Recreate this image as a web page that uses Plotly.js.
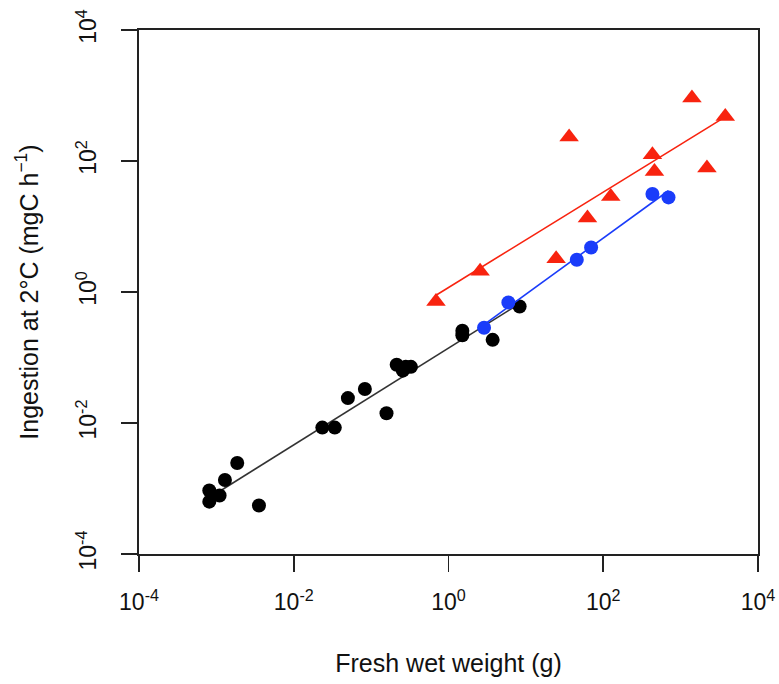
<!DOCTYPE html>
<html>
<head>
<meta charset="utf-8">
<script src="https://cdn.plot.ly/plotly-3.0.1.min.js"></script>
<style>
html,body{margin:0;padding:0;background:#fff;}
#chart{width:779px;height:684px;}
</style>
</head>
<body>
<div id="chart"></div>
<script>
// Group 1 (black circles)
const blackX = [0.00081, 0.00081, 0.00110, 0.00129, 0.00186, 0.00355, 0.0234, 0.0339, 0.0501, 0.083, 0.158, 0.214, 0.257, 0.28, 0.327, 1.51, 1.51, 3.72, 8.3];
const blackY = [0.00093, 0.00063, 0.00078, 0.00135, 0.00245, 0.00055, 0.0085, 0.0085, 0.024, 0.033, 0.0141, 0.0776, 0.063, 0.072, 0.072, 0.257, 0.219, 0.186, 0.60];
// Group 2 (blue circles)
const blueX = [2.88, 5.94, 45.5, 69.7, 432, 697];
const blueY = [0.285, 0.69, 3.11, 4.79, 31.3, 27.8];
// Group 3 (red triangles)
const redX = [0.689, 2.56, 24.6, 36.2, 62.5, 125, 432, 459, 1400, 2188, 3776];
const redY = [0.718, 2.07, 3.22, 232, 13.5, 28.8, 125, 69.3, 916, 78.2, 480];

const tickVals = [1e-4, 1e-2, 1, 1e2, 1e4];
const tickText = ["10<sup>-4</sup>", "10<sup>-2</sup>", "10<sup>0</sup>", "10<sup>2</sup>", "10<sup>4</sup>"];

// log-log least squares fit, line drawn between min and max x of each group
function fitLine(xs, ys) {
  const lx = xs.map(Math.log10), ly = ys.map(Math.log10);
  const n = lx.length;
  const mx = lx.reduce((a, b) => a + b, 0) / n;
  const my = ly.reduce((a, b) => a + b, 0) / n;
  let sxy = 0, sxx = 0;
  for (let i = 0; i < n; i++) { sxy += (lx[i] - mx) * (ly[i] - my); sxx += (lx[i] - mx) ** 2; }
  const b = sxy / sxx, a = my - b * mx;
  const x0 = Math.min(...lx), x1 = Math.max(...lx);
  return { x: [Math.pow(10, x0), Math.pow(10, x1)], y: [Math.pow(10, a + b * x0), Math.pow(10, a + b * x1)] };
}

const colBlack = '#000000', colBlue = '#1a3cfa', colRed = '#f8230f';
const fb = fitLine(blackX, blackY), fu = fitLine(blueX, blueY), fr = fitLine(redX, redY);

const traces = [
  { x: fb.x, y: fb.y, mode: 'lines', line: { color: '#333333', width: 1.6 }, hoverinfo: 'skip' },
  { x: blackX, y: blackY, mode: 'markers', marker: { symbol: 'circle', size: 14, color: colBlack } },
  { x: fu.x, y: fu.y, mode: 'lines', line: { color: colBlue, width: 1.6 }, hoverinfo: 'skip' },
  { x: blueX, y: blueY, mode: 'markers', marker: { symbol: 'circle', size: 14, color: colBlue } },
  { x: fr.x, y: fr.y, mode: 'lines', line: { color: colRed, width: 1.6 }, hoverinfo: 'skip' },
  { x: redX, y: redY, mode: 'markers', marker: { symbol: 'triangle-up', size: 17, color: colRed } }
];

const axisCommon = {
  type: 'log', range: [-4, 4], tickmode: 'array', tickvals: tickVals, ticktext: tickText,
  ticks: 'outside', ticklen: 16, tickwidth: 1.6, tickcolor: '#222',
  showline: true, linecolor: '#222', linewidth: 1.6, mirror: true,
  showgrid: false, zeroline: false,
  tickfont: { family: 'Liberation Sans, Arial, sans-serif', size: 23, color: '#111' }
};

const layout = {
  width: 779, height: 684,
  margin: { l: 139, r: 21, t: 30, b: 130 },
  paper_bgcolor: '#fff', plot_bgcolor: '#fff',
  showlegend: false,
  font: { family: 'Liberation Sans, Arial, sans-serif', color: '#111' },
  xaxis: Object.assign({}, axisCommon, {
    ticklabelstandoff: 11,
    title: { text: 'Fresh wet weight (g)', font: { size: 25, color: '#111' }, standoff: 40 }
  }),
  yaxis: Object.assign({}, axisCommon, {
    tickangle: -90, ticklabelstandoff: 16,
    title: { text: 'Ingestion at 2°C (mgC h<sup>−1</sup>)', font: { size: 25, color: '#111' }, standoff: 26 }
  })
};

Plotly.newPlot('chart', traces, layout, { staticPlot: true, displayModeBar: false });
</script>
</body>
</html>
